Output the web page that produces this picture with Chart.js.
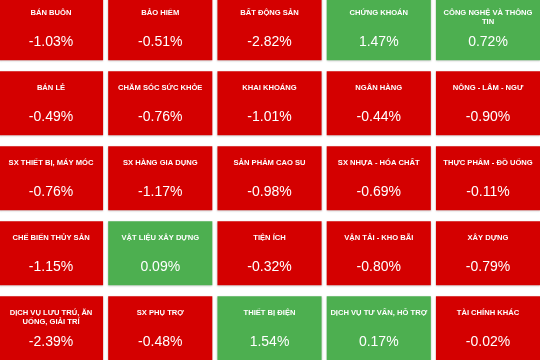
<!DOCTYPE html>
<html>
<head>
<meta charset="utf-8">
<script src="https://cdn.jsdelivr.net/npm/chart.js@4"></script>
<style>
  html, body { margin: 0; padding: 0; background: #fff; }
  #wrap { width: 540px; height: 360px; }
</style>
</head>
<body>
<div id="wrap"><canvas id="chartNganh"></canvas></div>
<script>
// ngành và % thay đổi, đọc theo hàng (5 ô mỗi hàng)
const nganh = [
  'BÁN BUÔN', 'BẢO HIỂM', 'BẤT ĐỘNG SẢN', 'CHỨNG KHOÁN', 'CÔNG NGHỆ VÀ THÔNG TIN',
  'BÁN LẺ', 'CHĂM SÓC SỨC KHỎE', 'KHAI KHOÁNG', 'NGÂN HÀNG', 'NÔNG - LÂM - NGƯ',
  'SX THIẾT BỊ, MÁY MÓC', 'SX HÀNG GIA DỤNG', 'SẢN PHẨM CAO SU', 'SX NHỰA - HÓA CHẤT', 'THỰC PHẨM - ĐỒ UỐNG',
  'CHẾ BIẾN THỦY SẢN', 'VẬT LIỆU XÂY DỰNG', 'TIỆN ÍCH', 'VẬN TẢI - KHO BÃI', 'XÂY DỰNG',
  'DỊCH VỤ LƯU TRÚ, ĂN UỐNG, GIẢI TRÍ', 'SX PHỤ TRỢ', 'THIẾT BỊ ĐIỆN', 'DỊCH VỤ TƯ VẤN, HỖ TRỢ', 'TÀI CHÍNH KHÁC'
]
const thayDoi = [
  -1.03, -0.51, -2.82, 1.47, 0.72,
  -0.49, -0.76, -1.01, -0.44, -0.90,
  -0.76, -1.17, -0.98, -0.69, -0.11,
  -1.15, 0.09, -0.32, -0.80, -0.79,
  -2.39, -0.48, 1.54, 0.17, -0.02
]
const soCot = 5

const DO = 'rgb(212,0,0)'
const XANH = 'rgb(77,175,80)'
const NUA_O = 0.423

const oDuLieu = nganh.map((ten, i) => {
    const hang = Math.floor(i / soCot)
    return { x: i % soCot, y: [hang - NUA_O, hang + NUA_O] }
})
const mauO = thayDoi.map(v => v >= 0 ? XANH : DO)

// bóng mờ nhẹ quanh ô
const bongO = {
    id: 'bongO',
    beforeDatasetsDraw(chart) {
        const ctx = chart.ctx
        ctx.save()
        ctx.shadowColor = 'rgba(0,0,0,0.22)'
        ctx.shadowBlur = 2
        ctx.shadowOffsetY = 1
    },
    afterDatasetsDraw(chart) {
        chart.ctx.restore()
    }
}

const chuTrenO = {
    id: 'chuTrenO',
    afterDatasetsDraw(chart) {
        const ctx = chart.ctx
        const meta = chart.getDatasetMeta(0)
        ctx.save()
        ctx.fillStyle = '#fff'
        ctx.textAlign = 'center'
        ctx.textBaseline = 'middle'
        meta.data.forEach((bar, i) => {
            const top = Math.min(bar.y, bar.base)
            ctx.font = 'bold 7.6px "Liberation Sans", Arial, sans-serif'
            // xuống dòng khi tên quá dài
            const words = nganh[i].split(' ')
            const lines = []
            let line = ''
            words.forEach(w => {
                const thu = line ? line + ' ' + w : w
                if (ctx.measureText(thu).width > 99 && line) {
                    lines.push(line)
                    line = w
                } else {
                    line = thu
                }
            })
            lines.push(line)
            lines.forEach((l, k) => ctx.fillText(l, bar.x, top + 16.5 + k * 8.6))

            ctx.font = '14px "Liberation Sans", Arial, sans-serif'
            ctx.fillText(thayDoi[i].toFixed(2) + '%', bar.x, top + 45.5)
        })
        ctx.restore()
    }
}

const canvas = document.getElementById('chartNganh')
const context = canvas.getContext('2d')

new Chart(context, {
    type: 'bar',
    data: {
        datasets: [
            {
                label: 'Ngành',
                data: oDuLieu,
                backgroundColor: mauO,
                borderWidth: 0,
                barThickness: 103.5
            }
        ]
    },
    options: {
        responsive: true,
        maintainAspectRatio: false,
        animation: false,
        layout: { padding: 0 },
        plugins: {
            legend: { display: false },
            tooltip: { enabled: false }
        },
        scales: {
            x: { type: 'linear', min: -0.467, max: 4.476, display: false, offset: false },
            y: { type: 'linear', min: -0.3767, max: 4.4233, reverse: true, display: false }
        }
    },
    plugins: [bongO, chuTrenO]
})
</script>
</body>
</html>
